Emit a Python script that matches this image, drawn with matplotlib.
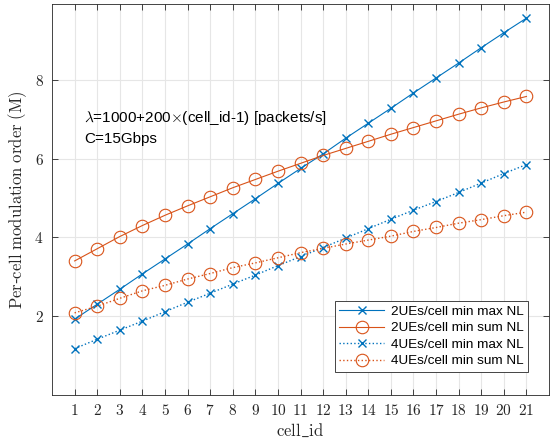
import matplotlib
matplotlib.use("Agg")
import matplotlib.pyplot as plt

# values
cell_id = list(range(1, 22))
ue2_minmax = [1.92, 2.30, 2.68, 3.07, 3.45, 3.83, 4.22, 4.60, 4.98, 5.37, 5.75,
              6.12, 6.52, 6.90, 7.28, 7.67, 8.05, 8.43, 8.82, 9.20, 9.57]
ue2_minsum = [3.40, 3.71, 4.02, 4.30, 4.56, 4.80, 5.03, 5.26, 5.47, 5.68, 5.88,
              6.08, 6.26, 6.44, 6.62, 6.79, 6.96, 7.13, 7.29, 7.44, 7.58]
ue4_minmax = [1.17, 1.41, 1.64, 1.87, 2.11, 2.35, 2.58, 2.81, 3.04, 3.28, 3.51,
              3.74, 3.98, 4.22, 4.46, 4.69, 4.91, 5.14, 5.38, 5.62, 5.85]
ue4_minsum = [2.08, 2.25, 2.45, 2.64, 2.78, 2.94, 3.08, 3.23, 3.35, 3.48, 3.61,
              3.72, 3.83, 3.93, 4.03, 4.15, 4.25, 4.36, 4.45, 4.55, 4.64]
series_names = ["2UEs/cell min max NL", "2UEs/cell min sum NL",
                "4UEs/cell min max NL", "4UEs/cell min sum NL"]
y_ticks = [2, 4, 6, 8]

plt.rcParams["mathtext.fontset"] = "cm"
plt.rcParams["font.family"] = ["Liberation Sans", "DejaVu Sans"]

blue = "#0072BD"
orange = "#D95319"
axcol = "#262626"

fig = plt.figure(figsize=(5.51, 4.45), dpi=100)
ax = fig.add_axes([0.0944, 0.113, 0.902, 0.878])

ax.plot(cell_id, ue2_minmax, "-", color=blue, lw=0.8, marker="x", ms=6,
        mew=1.0, label=series_names[0])
ax.plot(cell_id, ue2_minsum, "-", color=orange, lw=0.8, marker="o", ms=9,
        mfc="none", mew=0.8, label=series_names[1])
ax.plot(cell_id, ue4_minmax, ":", color=blue, lw=1.0, marker="x", ms=6,
        mew=1.0, label=series_names[2])
ax.plot(cell_id, ue4_minsum, ":", color=orange, lw=1.0, marker="o", ms=9,
        mfc="none", mew=0.8, label=series_names[3])

ax.set_xlim(0, 22)
ax.set_ylim(0, 9.93)
ax.set_xticks(cell_id, labels=[f"${c}$" for c in cell_id])
ax.set_yticks(y_ticks, labels=[f"${v}$" for v in y_ticks])
ax.tick_params(direction="in", top=True, right=True, length=4, width=0.6,
               colors=axcol, labelsize=11, pad=6)
ax.grid(True, color="#e6e6e6", lw=0.8)
ax.set_axisbelow(True)
for s in ax.spines.values():
    s.set_color(axcol)
    s.set_linewidth(0.6)

ax.set_xlabel(r"$\mathrm{cell\_id}$", fontsize=12, color=axcol, labelpad=3)
ax.set_ylabel(r"$\mathrm{Per}$-$\mathrm{cell\ modulation\ order\ (M)}$",
              fontsize=12, color=axcol, labelpad=4)

ax.text(1.42, 7.03, r"$\lambda$=1000+200$\times$(cell_id-1) [packets/s]",
        fontsize=11, va="center", ha="left")
ax.text(1.42, 6.5, "C=15Gbps", fontsize=11, va="center", ha="left")

leg = ax.legend(loc="lower right", bbox_to_anchor=(0.958, 0.058),
                borderaxespad=0, fontsize=9.7, handlelength=3.3,
                borderpad=0.35, labelspacing=0.3, handletextpad=0.5,
                fancybox=False, framealpha=1)
leg.get_frame().set_edgecolor(axcol)
leg.get_frame().set_linewidth(0.6)

fig.savefig("out.png", dpi=100)
